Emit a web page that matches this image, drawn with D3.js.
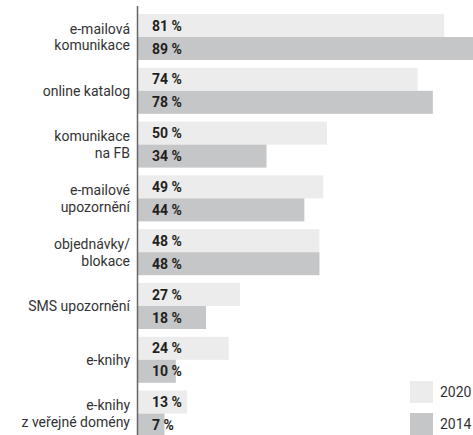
<!DOCTYPE html>
<html><head><meta charset="utf-8">
<script src="https://cdn.jsdelivr.net/npm/d3@7"></script>
<style>body{margin:0;background:#fff}svg{display:block;font-family:Roboto, "Noto Sans", sans-serif}</style>
</head><body>
<script>
const categories = [["e-mailová","komunikace"],["online katalog"],["komunikace","na FB"],["e-mailové","upozornění"],["objednávky/","blokace"],["SMS upozornění"],["e-knihy"],["e-knihy","z veřejné domény"]];
const values2020 = [81,74,50,49,48,27,24,13];
const values2014 = [89,78,34,44,48,18,10,7];
const seriesNames = ["2020","2014"];
const colors = ["#ebeceb","#c5c6c7"];

const W=473,H=435;
const svg=d3.select("body").append("svg").attr("width",W).attr("height",H);
const x0=138;
const x=d3.scaleLinear().domain([0,100]).range([x0,x0+378]);
const step=53.8, gap=7.8;
const y=d3.scaleBand().domain(d3.range(categories.length)).range([14,14+step*8-gap]).paddingInner(gap/step).paddingOuter(0).align(0);
const bh=y.bandwidth()/2;

const g=svg.append("g");
categories.forEach((c,i)=>{
  [values2020[i],values2014[i]].forEach((v,k)=>{
    const yy=y(i)+k*bh;
    g.append("rect").attr("x",x(0)).attr("y",yy).attr("width",x(v)-x(0)).attr("height",bh).attr("fill",colors[k]);
    g.append("text").attr("x",x0+14).attr("y",yy+bh/2).attr("dy","0.36em")
      .attr("font-size",14).attr("font-weight","bold").attr("fill","#231f20")
      .text(v+" %");
  });
  const cy=y(i)+y.bandwidth()/2;
  const t=g.append("text").attr("text-anchor","end").attr("font-size",14).attr("fill","#333");
  c.forEach((line,j)=>{
    t.append("tspan").attr("x",130).attr("y",cy+(j-(c.length-1)/2)*16.6).attr("dy","0.36em").text(line);
  });
});
svg.append("line").attr("x1",x0-0.5).attr("x2",x0-0.5).attr("y1",6).attr("y2",H).attr("stroke","#666").attr("stroke-width",1.5);

const leg=svg.append("g");
seriesNames.forEach((s,k)=>{
  const yy=381+k*32;
  leg.append("rect").attr("x",410).attr("y",yy).attr("width",23).attr("height",22).attr("fill",colors[k]);
  leg.append("text").attr("x",440).attr("y",yy+11).attr("dy","0.36em").attr("font-size",14).attr("fill","#333").text(s);
});
</script>
</body></html>
